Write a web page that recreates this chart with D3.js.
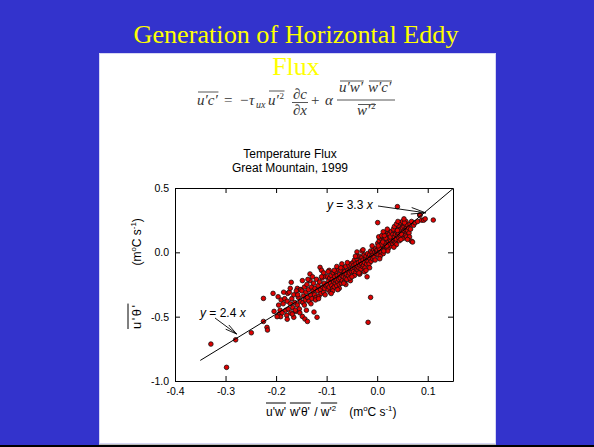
<!DOCTYPE html>
<html>
<head>
<meta charset="utf-8">
<script src="https://cdn.jsdelivr.net/npm/d3@7/dist/d3.min.js"></script>
<style>
  html, body { margin: 0; padding: 0; background: #3333cc; }
  svg { display: block; }
</style>
</head>
<body>
<svg id="slide" width="594" height="447"></svg>
<script>
// Slide text
const slideTitle = ["Generation of Horizontal Eddy", "Flux"];
const chartTitle = ["Temperature Flux", "Great Mountain, 1999"];

// Axis ticks
const xTicks = [-0.4, -0.3, -0.2, -0.1, 0.0, 0.1];
const yTicks = [-1.0, -0.5, 0.0, 0.5];
const xDomain = [-0.4, 0.15];
const yDomain = [-1.0, 0.5];

// Fitted slopes: y = 2.4 x for negative flux, y = 3.3 x for positive flux
const fitSlopes = [2.4, 3.3];
const fitRange = [-0.35, 0.15];

// Observed fluxes: modelled x (u'w' w'θ' / w'²) and measured y (u'θ')
const fluxX = [
  -0.329,-0.298,-0.280,-0.249,-0.225,-0.225,-0.218,-0.217,-0.206,-0.204,-0.196,-0.194,-0.191,-0.177,-0.170,-0.165,-0.158,-0.152,-0.148,-0.143,
  -0.138,-0.133,-0.125,-0.119,-0.113,-0.110,-0.106,-0.067,-0.053,-0.040,-0.034,-0.020,-0.018,-0.013,0.001,0.040,0.068,0.084,0.111,
  -0.198,-0.195,-0.192,-0.190,-0.188,-0.186,-0.183,-0.181,-0.179,-0.178,-0.176,-0.174,-0.172,-0.171,-0.169,-0.167,-0.165,-0.163,-0.161,-0.160,
  -0.158,-0.156,-0.154,-0.152,-0.151,
  -0.149,-0.147,-0.146,-0.144,-0.142,-0.141,-0.139,-0.138,-0.136,-0.135,-0.133,-0.132,-0.130,-0.129,-0.127,-0.126,-0.124,-0.123,-0.121,-0.120,
  -0.118,-0.117,-0.115,-0.114,-0.112,-0.111,-0.109,-0.108,-0.106,-0.105,-0.104,-0.102,-0.101,
  -0.099,-0.098,-0.097,-0.096,-0.095,-0.094,-0.093,-0.092,-0.091,-0.090,-0.089,-0.088,-0.087,-0.086,-0.085,-0.084,-0.083,-0.082,-0.081,-0.080,
  -0.079,-0.078,-0.077,-0.076,-0.075,-0.074,-0.073,-0.072,-0.071,-0.070,-0.069,-0.068,-0.067,-0.066,-0.065,-0.064,-0.063,-0.062,-0.061,-0.060,
  -0.058,-0.057,-0.056,-0.055,-0.054,-0.053,-0.052,-0.051,-0.088,-0.075,-0.062,-0.095,-0.080,-0.070,
  -0.049,-0.048,-0.047,-0.046,-0.045,-0.044,-0.043,-0.042,-0.041,-0.040,-0.039,-0.038,-0.037,-0.036,-0.035,-0.034,-0.033,-0.032,-0.031,-0.030,
  -0.029,-0.028,-0.027,-0.026,-0.025,-0.024,-0.023,-0.022,-0.021,-0.020,-0.019,-0.018,-0.017,-0.016,-0.015,-0.014,-0.013,-0.012,-0.011,-0.010,
  -0.009,-0.008,-0.007,-0.006,-0.005,-0.004,-0.003,-0.002,-0.001,-0.045,-0.035,-0.025,-0.015,-0.040,-0.030,
  0.000,0.001,0.002,0.003,0.004,0.005,0.006,0.007,0.008,0.009,0.010,0.011,0.012,0.013,0.014,0.015,0.016,0.017,0.018,0.019,
  0.020,0.021,0.022,0.023,0.024,0.025,0.026,0.027,0.028,0.029,0.030,
  0.003,0.006,0.009,0.012,0.015,0.018,0.021,0.024,0.027,0.004,0.008,0.013,0.017,0.022,0.026,0.002,0.011,0.019,0.028,0.014,
  0.031,0.032,0.033,0.034,0.035,0.036,0.037,0.038,0.039,0.040,0.041,0.042,0.043,0.044,0.045,0.046,0.047,0.048,0.049,0.050,
  0.051,0.052,0.053,0.054,0.055,0.056,0.057,0.058,0.059,0.060,
  0.032,0.036,0.040,0.044,0.048,0.052,0.056,0.060,0.034,0.038,0.042,0.046,0.050,0.054,0.058,
  0.062,0.063,0.065,0.066,0.068,0.070,0.072,0.075,0.080,0.085,0.088,0.092,0.095,0.064,0.060,0.038,
  -0.185,-0.178,-0.172,-0.168,-0.162,-0.157,-0.153,-0.148,-0.144,-0.140,-0.137,-0.131,-0.128,-0.122,-0.116,-0.110,-0.103,-0.097,-0.091,-0.085,
  -0.078,-0.072,-0.066,-0.059,-0.050,-0.043,-0.036,-0.028,-0.022,-0.010,0.005,0.012,0.020,0.033,0.041,0.047,0.053
];
const fluxY = [
  -0.713,-0.894,-0.680,-0.625,-0.537,-0.358,-0.583,-0.604,-0.319,-0.459,-0.345,-0.480,-0.500,-0.319,-0.233,-0.505,-0.280,-0.290,-0.498,-0.518,
  -0.537,-0.168,-0.464,-0.505,-0.117,-0.140,-0.160,-0.143,-0.220,0.003,-0.163,-0.190,-0.544,-0.350,0.231,0.355,0.086,0.290,0.251,
  -0.50,-0.41,-0.45,-0.37,-0.47,-0.40,-0.36,-0.45,-0.49,-0.38,-0.44,-0.31,-0.40,-0.47,-0.36,-0.43,-0.33,-0.39,-0.46,-0.30,
  -0.41,-0.35,-0.44,-0.38,-0.29,
  -0.30,-0.39,-0.34,-0.27,-0.37,-0.31,-0.25,-0.35,-0.29,-0.38,-0.22,-0.33,-0.27,-0.36,-0.30,-0.24,-0.33,-0.28,-0.35,-0.21,
  -0.30,-0.26,-0.34,-0.23,-0.29,-0.32,-0.20,-0.27,-0.31,-0.24,-0.28,-0.19,-0.26,
  -0.25,-0.19,-0.29,-0.22,-0.27,-0.20,-0.31,-0.24,-0.18,-0.26,-0.21,-0.28,-0.16,-0.23,-0.27,-0.19,-0.24,-0.15,-0.22,-0.26,
  -0.18,-0.23,-0.13,-0.21,-0.25,-0.17,-0.20,-0.14,-0.24,-0.18,-0.22,-0.12,-0.19,-0.16,-0.23,-0.15,-0.20,-0.11,-0.17,-0.21,
  -0.14,-0.18,-0.10,-0.16,-0.20,-0.13,-0.09,-0.15,-0.30,-0.28,-0.25,-0.14,-0.11,-0.09,
  -0.13,-0.08,-0.15,-0.10,-0.06,-0.12,-0.16,-0.09,-0.13,-0.05,-0.11,-0.14,-0.08,-0.12,-0.03,-0.10,-0.07,-0.13,-0.09,-0.04,
  -0.11,-0.06,-0.10,-0.02,-0.08,-0.12,-0.05,-0.03,-0.09,-0.06,-0.01,-0.07,-0.04,-0.09,-0.02,-0.05,0.01,-0.07,-0.03,0.00,
  -0.05,-0.02,0.02,-0.04,0.00,-0.06,0.03,-0.01,0.01,-0.18,-0.17,-0.15,-0.12,-0.03,0.01,
  0.02,0.07,-0.02,0.04,0.09,0.01,0.05,0.11,0.00,0.07,0.03,0.12,-0.01,0.06,0.10,0.02,0.14,0.07,0.04,0.11,
  0.08,0.15,0.03,0.12,0.06,0.10,0.16,0.05,0.13,0.09,0.07,
  0.12,-0.03,0.13,0.05,0.07,0.13,0.01,0.14,0.09,0.03,0.06,0.01,0.11,0.06,0.12,0.05,0.08,0.05,0.16,0.13,
  0.14,0.09,0.17,0.12,0.08,0.14,0.19,0.10,0.16,0.13,0.20,0.15,0.11,0.17,0.21,0.13,0.18,0.22,0.15,0.19,
  0.23,0.16,0.20,0.14,0.22,0.18,0.24,0.19,0.15,0.21,
  0.18,0.07,0.17,0.09,0.14,0.11,0.13,0.17,0.20,0.06,0.21,0.23,0.24,0.23,0.12,
  0.19,0.15,0.22,0.18,0.24,0.08,0.21,0.23,0.24,0.29,0.25,0.25,0.26,0.12,0.10,0.22,
  -0.31,-0.52,-0.28,-0.48,-0.45,-0.33,-0.47,-0.22,-0.41,-0.45,-0.21,-0.40,-0.19,-0.37,-0.36,-0.19,-0.33,-0.15,-0.32,-0.14,
  -0.29,-0.12,-0.24,-0.08,-0.19,-0.03,-0.16,0.02,-0.14,0.05,-0.05,0.16,0.18,0.04,0.24,0.10,0.26
];

const svg = d3.select("#slide");
const W = 594, H = 447;

// Slide background and white content panel
svg.append("rect").attr("width", W).attr("height", H).attr("fill", "#3333cc");
svg.append("rect").attr("x", 99.5).attr("y", 53.5).attr("width", 396).attr("height", 390)
  .attr("fill", "#ffffff").attr("stroke", "#d6d6f4").attr("stroke-width", 1);
svg.append("line").attr("x1", 99).attr("x2", 496).attr("y1", 444.5).attr("y2", 444.5)
  .attr("stroke", "#bbbbbb");
svg.append("rect").attr("x", 0).attr("y", 445).attr("width", W).attr("height", 2).attr("fill", "#000");

// Slide title (two lines, yellow serif)
svg.append("text").attr("x", 296).attr("y", 43)
  .attr("text-anchor", "middle").attr("font-family", "'Liberation Serif', 'Times New Roman', serif")
  .attr("font-size", 26).attr("fill", "#ffff00")
  .attr("textLength", 325).attr("lengthAdjust", "spacingAndGlyphs")
  .text(slideTitle[0]);
svg.append("text").attr("x", 296).attr("y", 75)
  .attr("text-anchor", "middle").attr("font-family", "'Liberation Serif', 'Times New Roman', serif")
  .attr("font-size", 26).attr("fill", "#ffff00")
  .text(slideTitle[1]);

// Flux-gradient relation
const eq = svg.append("g").attr("fill", "#333").attr("font-family", "'Liberation Serif', 'Times New Roman', serif");
function piece(x, y, txt, opts = {}) {
  const t = eq.append("text").attr("x", x).attr("y", y)
    .attr("font-size", opts.size || 15)
    .attr("font-style", opts.italic ? "italic" : "normal")
    .attr("text-anchor", opts.anchor || "start")
    .text(txt);
  return t;
}
function overline(x1, x2, y) {
  eq.append("line").attr("x1", x1).attr("x2", x2).attr("y1", y).attr("y2", y)
    .attr("stroke", "#444").attr("stroke-width", 0.9);
}
function overText(t, y) {
  const b = t.node().getBBox();
  overline(b.x + 1, b.x + b.width, y);
}
const uc = piece(197, 105, "u\u2032c\u2032", { italic: true });
overText(uc, 92);
piece(224, 105, "=");
piece(240, 105, "\u2212");
piece(249, 105, "\u03c4", { italic: true });
piece(256, 108, "ux", { italic: true, size: 10 });
const u2 = piece(268, 105, "u\u2032", { italic: true });
const u2b = u2.node().getBBox();
piece(u2b.x + u2b.width, 99, "2", { size: 9 });
overline(u2b.x + 1, u2b.x + u2b.width + 5, 91);
piece(300, 99, "\u2202c", { italic: true, anchor: "middle" });
overline(292, 308, 102.5);
piece(300, 115, "\u2202x", { italic: true, anchor: "middle" });
piece(311, 105, "+");
piece(325, 105, "\u03b1", { italic: true });
const uw = piece(339, 92, "u\u2032w\u2032", { italic: true });
overText(uw, 81);
const wc = piece(368, 92, "w\u2032c\u2032", { italic: true });
overText(wc, 81);
overline(337, 395, 100);
const w2 = piece(357, 115, "w\u2032", { italic: true });
const w2b = w2.node().getBBox();
piece(w2b.x + w2b.width, 109, "2", { size: 9 });
overline(w2b.x + 1, w2b.x + w2b.width + 5, 104.5);

// Chart
const sans = "'Liberation Sans', Arial, Helvetica, sans-serif";
const x = d3.scaleLinear().domain(xDomain).range([175, 453]);
const y = d3.scaleLinear().domain(yDomain).range([381, 188]);

const chart = svg.append("g").attr("font-family", sans);

chart.selectAll("text.ctitle").data(chartTitle).join("text")
  .attr("class", "ctitle")
  .attr("x", 290).attr("y", (d, i) => 158 + i * 14)
  .attr("text-anchor", "middle").attr("font-size", 12).attr("fill", "#000")
  .text(d => d);

const fmt = d => d.toFixed(1);
function styleAxis(g) {
  g.selectAll("path.domain").attr("stroke", "#000").attr("stroke-width", 1);
  g.selectAll(".tick line").attr("stroke", "#000");
  g.selectAll(".tick text").attr("font-family", sans).attr("font-size", 10.5).attr("fill", "#000");
}
chart.append("g").attr("transform", `translate(0,${y.range()[0]})`)
  .call(d3.axisBottom(x).tickValues(xTicks).tickFormat(fmt).tickSizeInner(-5).tickSizeOuter(0).tickPadding(7))
  .call(styleAxis);
chart.append("g").attr("transform", `translate(0,${y.range()[1]})`)
  .call(d3.axisTop(x).tickValues(xTicks.slice(1)).tickFormat("").tickSizeInner(-5).tickSizeOuter(0))
  .call(styleAxis);
chart.append("g").attr("transform", `translate(${x.range()[0]},0)`)
  .call(d3.axisLeft(y).tickValues(yTicks).tickFormat(fmt).tickSizeInner(-5).tickSizeOuter(0).tickPadding(6))
  .call(styleAxis);
chart.append("g").attr("transform", `translate(${x.range()[1]},0)`)
  .call(d3.axisRight(y).tickValues(yTicks).tickFormat("").tickSizeInner(-5).tickSizeOuter(0))
  .call(styleAxis);

// Scatter of observations
const pts = fluxX.map((v, i) => ({ x: v, y: fluxY[i] }));
chart.append("g").selectAll("circle").data(pts).join("circle")
  .attr("cx", d => x(d.x)).attr("cy", d => y(d.y)).attr("r", 2.3)
  .attr("fill", "#e00000").attr("stroke", "#111").attr("stroke-width", 0.8);

// Piecewise fit through the origin
const fit = [fitRange[0], 0, fitRange[1]].map(v => ({ x: v, y: v * (v < 0 ? fitSlopes[0] : fitSlopes[1]) }));
chart.append("path").datum(fit)
  .attr("d", d3.line().x(d => x(d.x)).y(d => y(d.y)))
  .attr("fill", "none").attr("stroke", "#000").attr("stroke-width", 1);

// Fit labels with open arrows
function arrow(p0, p1, head) {
  const g = chart.append("g").attr("stroke", "#000").attr("stroke-width", 0.9).attr("fill", "none");
  g.append("line").attr("x1", p0[0]).attr("y1", p0[1]).attr("x2", p1[0]).attr("y2", p1[1]);
  const a = Math.atan2(p1[1] - p0[1], p1[0] - p0[0]);
  [0.22, -0.22].forEach(s => {
    g.append("line").attr("x1", p1[0]).attr("y1", p1[1])
      .attr("x2", p1[0] - head * Math.cos(a + s)).attr("y2", p1[1] - head * Math.sin(a + s));
  });
}
function fitLabel(px, py, slope) {
  const t = chart.append("text").attr("x", px).attr("y", py).attr("font-size", 12).attr("fill", "#000");
  t.append("tspan").attr("font-style", "italic").text("y");
  t.append("tspan").text("\u00a0=\u00a0" + slope.toFixed(1) + "\u00a0");
  t.append("tspan").attr("font-style", "italic").text("x");
}
fitLabel(327, 209, fitSlopes[1]);
arrow([378, 206], [x(0.096), y(0.307)], 15);
fitLabel(200, 317, fitSlopes[0]);
arrow([215, 318], [x(-0.278), y(-0.635)], 12);

// Axis titles with overbars
function overbarLabel(parent, parts, fontSize, barOffset) {
  let cx = 0;
  parts.forEach(p => {
    cx += p.gap || 0;
    const t = parent.append("text").attr("x", cx).attr("y", 0).attr("font-size", p.size || fontSize)
      .attr("letter-spacing", p.spacing || 0).attr("fill", "#000");
    p.segs.forEach(s => {
      const ts = t.append("tspan").text(s.t);
      if (s.sup) ts.attr("font-size", fontSize * 0.65).attr("dy", s.sup);
      else if (s.back) ts.attr("dy", s.back);
    });
    const b = t.node().getBBox();
    if (p.bar) {
      parent.append("line").attr("x1", cx).attr("x2", cx + b.width).attr("y1", barOffset).attr("y2", barOffset)
        .attr("stroke", "#000").attr("stroke-width", 1);
    }
    cx += b.width;
  });
  return cx;
}
const unitSegs = [{ t: "(m" }, { t: "o", sup: -5 }, { t: "C\u00a0s", back: 5 }, { t: "-1", sup: -5 }, { t: ")", back: 5 }];

const xl = chart.append("g").attr("transform", "translate(266,416)");
overbarLabel(xl, [
  { segs: [{ t: "u'w'" }], bar: true },
  { segs: [{ t: "w'\u03b8'" }], bar: true, gap: 4 },
  { segs: [{ t: "\u00a0/\u00a0" }] },
  { segs: [{ t: "w'" }, { t: "2", sup: -5 }], bar: true },
  { segs: unitSegs, gap: 12 }
], 12, -13);

const yl = chart.append("g").attr("transform", "translate(141,329) rotate(-90)");
overbarLabel(yl, [
  { segs: [{ t: "u'\u03b8'" }], bar: true, size: 13, spacing: 1.5 },
  { segs: unitSegs, gap: 38 }
], 12, -13);
</script>
</body>
</html>
